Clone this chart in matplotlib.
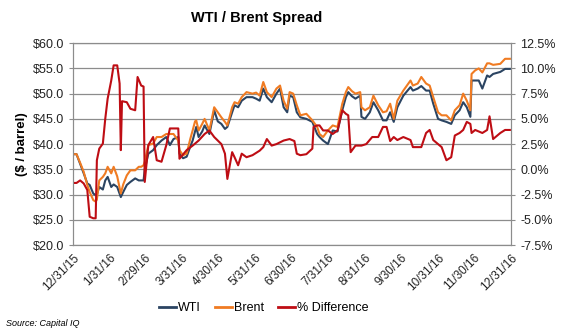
import matplotlib
matplotlib.use("Agg")
import matplotlib.pyplot as plt
import numpy as np
import pandas as pd

plt.rcParams['font.family'] = ['Liberation Sans', 'DejaVu Sans']

start = pd.Timestamp("2015-12-31")

# days after 12/31/15, WTI and Brent prices ($ / barrel)
price_days = [0, 3, 6, 9, 12, 14, 17, 19, 20, 22, 25, 27, 29, 32, 34, 37, 40, 42, 45, 48,
              52, 55, 57, 59, 60, 63, 67, 70, 74, 78, 81, 84, 88, 89, 92, 95, 98, 100, 102, 103,
              105, 108, 110, 114, 118, 121, 124, 127, 129, 133, 135, 138, 141, 145, 150, 153, 156, 159, 162, 166,
              170, 173, 176, 179, 181, 184, 187, 190, 195, 200, 204, 206, 209, 213, 217, 221, 225, 228, 230, 233,
              236, 240, 241, 244, 248, 251, 255, 259, 262, 265, 268, 271, 276, 282, 284, 288, 291, 295, 298, 301,
              305, 308, 312, 316, 319, 323, 326, 329, 332, 333, 336, 339, 342, 346, 348, 351, 357, 361, 365]
wti = [38.0, 38.0, 36.1, 34.2, 32.2, 31.9, 30.2, 29.9, 30.0, 31.5, 31.0, 32.8, 33.5, 31.5, 32.0, 31.5, 29.5, 30.5, 31.9, 32.5,
       33.2, 32.8, 32.8, 32.8, 35.0, 38.1, 38.8, 39.8, 40.7, 41.4, 39.8, 41.0, 41.4, 38.1, 37.2, 37.5, 39.5, 40.7, 42.5, 43.4,
       41.4, 42.5, 43.7, 42.0, 46.7, 44.5, 44.0, 43.0, 43.4, 46.3, 47.7, 47.3, 48.6, 49.3, 49.3, 49.0, 48.6, 51.0, 49.3, 48.3,
       50.0, 51.0, 47.3, 46.3, 49.6, 49.3, 46.3, 45.3, 45.0, 44.4, 42.0, 41.4, 40.7, 40.0, 42.7, 42.5, 46.7, 49.3, 50.3, 49.5,
       49.0, 49.6, 45.4, 45.0, 46.3, 48.3, 46.7, 44.7, 44.7, 46.3, 44.4, 47.3, 49.6, 51.3, 50.6, 51.0, 51.5, 50.6, 50.6, 48.0,
       45.0, 44.7, 44.4, 44.0, 45.7, 46.7, 48.3, 47.3, 45.4, 52.6, 52.6, 52.6, 51.0, 53.6, 53.3, 53.9, 54.3, 54.9, 54.9]
brent = [38.0, 38.0, 36.3, 34.5, 31.9, 30.5, 28.9, 28.6, 29.0, 32.8, 33.5, 34.2, 35.5, 34.2, 35.5, 33.6, 30.2, 32.0, 33.8, 34.8,
         34.8, 35.5, 35.5, 35.8, 36.5, 39.8, 40.1, 41.4, 41.4, 42.0, 42.0, 42.0, 40.7, 38.8, 37.8, 38.1, 41.0, 42.7, 44.5, 44.7,
         42.7, 44.0, 45.0, 42.7, 47.3, 46.3, 45.3, 44.4, 43.7, 47.3, 48.3, 48.0, 49.3, 50.3, 50.0, 50.2, 49.6, 52.3, 50.3, 49.3,
         51.0, 51.6, 48.6, 47.0, 50.3, 50.0, 47.7, 45.7, 46.0, 44.7, 43.4, 42.0, 41.4, 42.7, 43.7, 43.4, 48.0, 50.3, 51.3, 50.5,
         50.0, 50.3, 47.3, 46.7, 47.3, 49.6, 47.7, 46.3, 46.5, 48.0, 45.0, 48.6, 50.6, 52.6, 51.6, 52.0, 53.3, 52.0, 51.6, 49.3,
         46.3, 45.7, 45.7, 44.7, 46.7, 47.7, 50.0, 48.6, 46.7, 53.9, 54.6, 55.0, 54.2, 56.0, 56.0, 55.7, 55.9, 56.9, 56.9]

# days after 12/31/15 and % difference (Brent over WTI)
diff_days = [0, 3, 6, 9, 12, 14, 17, 19, 20, 22, 25, 27, 29, 32, 34, 37, 39, 40, 41, 45,
             48, 52, 54, 57, 59, 60, 63, 67, 70, 74, 78, 81, 88, 89, 95, 100, 105, 110, 114, 118,
             124, 127, 129, 133, 135, 138, 141, 145, 150, 156, 159, 162, 166, 170, 176, 181, 185, 187, 190, 195,
             200, 201, 204, 206, 209, 213, 217, 221, 225, 228, 230, 232, 236, 241, 245, 250, 255, 259, 262, 265,
             268, 271, 276, 282, 284, 291, 295, 298, 301, 305, 308, 312, 316, 319, 323, 326, 329, 332, 333, 336,
             342, 346, 348, 351, 357, 361, 365]
diff_pct = [-1.35, -1.35, -1.1, -1.4, -2.05, -4.7, -4.85, -4.85, 0.9, 2.05, 2.55, 5.0, 7.0, 8.8, 10.3, 10.3, 8.5, 1.9, 6.75, 6.65,
            6.0, 5.85, 9.15, 8.3, 8.2, -1.25, 2.4, 3.2, 0.9, 0.75, 2.4, 4.05, 4.05, 1.05, 1.9, 2.35, 2.85, 3.5, 3.85, 3.2,
            2.5, 1.55, -0.95, 1.7, 1.2, 0.4, 1.55, 1.2, 1.4, 1.85, 2.2, 3.0, 2.35, 2.5, 2.85, 3.0, 2.8, 1.55, 1.4, 1.5,
            2.05, 4.2, 4.35, 4.35, 3.85, 3.85, 3.5, 3.85, 5.85, 5.5, 5.35, 1.7, 2.35, 2.35, 2.5, 3.2, 3.2, 4.2, 4.2, 2.8,
            3.2, 2.9, 3.2, 2.9, 2.2, 2.2, 3.6, 3.9, 2.9, 2.5, 2.2, 0.9, 1.2, 3.35, 3.6, 3.9, 4.7, 4.5, 3.6, 3.9,
            3.6, 3.9, 5.25, 3.0, 3.6, 3.9, 3.9]

price_dates = start + pd.to_timedelta(price_days, unit="D")
diff_dates = start + pd.to_timedelta(diff_days, unit="D")
tick_dates = pd.date_range("2015-12-31", "2016-12-31", freq="ME")
tick_labels = [f"{d.month}/{d.day}/{d.strftime('%y')}" for d in tick_dates]

fig = plt.figure(figsize=(5.61, 3.32), dpi=100)
ax = fig.add_axes([0.130, 0.262, 0.781, 0.608])
ax2 = ax.twinx()

c_wti = "#2b4462"
c_brent = "#f07b22"
c_diff = "#be0d14"

l1, = ax.plot(price_dates, wti, color=c_wti, lw=1.5, label="WTI")
l2, = ax.plot(price_dates, brent, color=c_brent, lw=1.5, label="Brent")
l3, = ax2.plot(diff_dates, diff_pct, color=c_diff, lw=1.5, label="% Difference")

ax.set_ylim(20, 60)
ax.set_yticks(np.arange(20, 61, 5))
ax.set_yticklabels([f"${v:.1f}" for v in np.arange(20, 61, 5)])
ax2.set_ylim(-7.5, 12.5)
ax2.set_yticks(np.arange(-7.5, 12.6, 2.5))
ax2.set_yticklabels([f"{v:.1f}%" for v in np.arange(-7.5, 12.6, 2.5)])
ax.set_xlim(tick_dates[0], tick_dates[-1])
ax.set_xticks(tick_dates)
ax.set_xticklabels(tick_labels, rotation=45, ha="right", rotation_mode="anchor")

ax.grid(axis="y", color="#8c8c8c", lw=0.9)
ax.set_axisbelow(True)
for a in (ax, ax2):
    for s in a.spines.values():
        s.set_color("#8c8c8c")
    a.tick_params(labelsize=9, colors="#222222", length=3, color="#8c8c8c")
ax.tick_params(axis="x", length=0, pad=5, labelsize=8.5)

fig.text(0.458, 0.945, "WTI / Brent Spread", ha="center", va="center", fontsize=10.5, fontweight="bold")
fig.text(0.040, 0.566, "($ / barrel)", rotation=90, ha="center", va="center", fontsize=9.5, fontweight="bold")
leg = fig.legend(handles=[l1, l2, l3], loc="center", bbox_to_anchor=(0.47, 0.072), ncol=3, frameon=False,
                 fontsize=9, handlelength=1.4, handletextpad=0.15, columnspacing=1.1)
for h in leg.legend_handles:
    h.set_linewidth(2)
fig.text(0.01, 0.027, "Source: Capital IQ", ha="left", va="center", fontsize=6.5, style="italic")

fig.savefig("out.png", dpi=100)
